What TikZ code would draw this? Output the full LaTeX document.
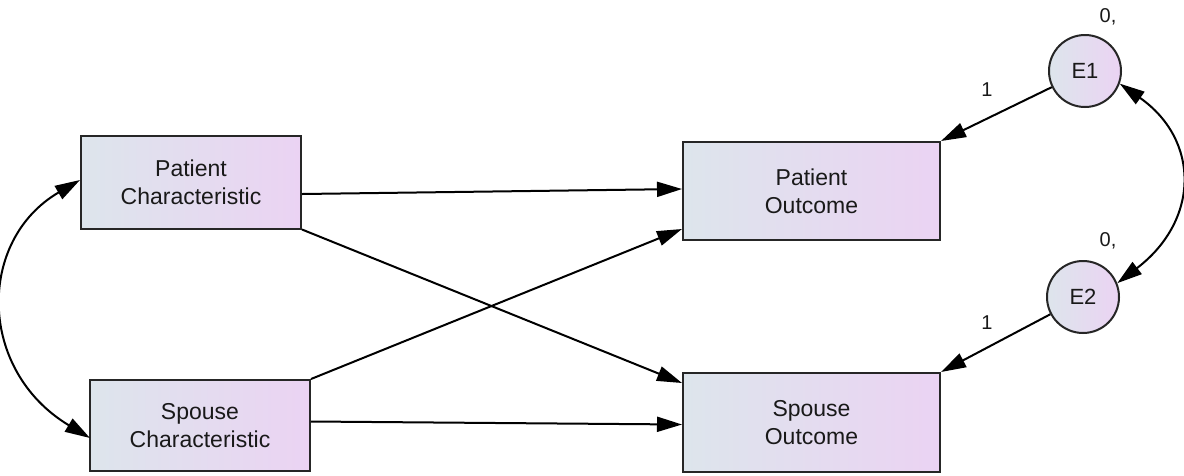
\documentclass[tikz,border=0pt]{standalone}
\usepackage{fontspec}
\setmainfont{Liberation Sans}
\usetikzlibrary{arrows.meta}
\definecolor{gl}{HTML}{DDE5EC}
\definecolor{gr}{HTML}{EBD3F3}
\tikzset{
  obs/.style={draw=black!85, line width=2pt, left color=gl, right color=gr, inner sep=0pt,
    align=center, text=black!90, font=\fontsize{23}{28}\selectfont},
  lat/.style={circle, draw=black!85, line width=2pt, left color=gl, right color=gr,
    minimum size=72pt, inner sep=0pt, text=black!90, font=\fontsize{22}{26}\selectfont},
  path/.style={line width=2pt, -{Triangle[length=25pt,width=15pt]}},
  cov/.style={line width=2pt, {Triangle[length=25pt,width=15pt]}-{Triangle[length=25pt,width=15pt]}},
  lab/.style={font=\fontsize{20}{24}\selectfont, inner sep=0pt, text=black!90}
}
\begin{document}
\begin{tikzpicture}[x=1pt,y=-1pt]
\useasboundingbox[fill=white] (0,0) rectangle (1184,475);
\node[obs, minimum width=220pt, minimum height=93pt] (PC) at (191,182) {Patient\\Characteristic};
\node[obs, minimum width=220pt, minimum height=91pt] (SC) at (200,425.5) {Spouse\\Characteristic};
\node[obs, minimum width=257pt, minimum height=98pt] (PO) at (811.5,191) {Patient\\Outcome};
\node[obs, minimum width=257pt, minimum height=99pt] (SO) at (811.5,422.5) {Spouse\\Outcome};
\node[lat] (E1) at (1085,71) {E1};
\node[lat] (E2) at (1083,297) {E2};
\node[lab] (z1) at (1108,17) {0,};
\node[lab] (z2) at (1108,241) {0,};
\node[lab] (o1) at (987,90) {1};
\node[lab] (o2) at (987,323) {1};
\draw[path] ([yshift=-12pt]PC.east) -- ([yshift=2pt]PO.west);
\draw[path] (PC.south east) -- ([yshift=-11pt]SO.north west);
\draw[path] (SC.north east) -- ([yshift=12pt]PO.south west);
\draw[path] ([yshift=4pt]SC.east) -- ([yshift=-2pt]SO.west);
\draw[path] (E1) -- (PO.north east);
\draw[path] (E2) -- (SO.north east);
\coordinate (a1) at (80,180);
\coordinate (a2) at (90,438);
\draw[cov] (a1) .. controls (-23,240) and (-23,370) .. (a2);
\draw[cov] (E1.-20) .. controls (1200,140) and (1200,220) .. (E2.22);
\end{tikzpicture}
\end{document}
